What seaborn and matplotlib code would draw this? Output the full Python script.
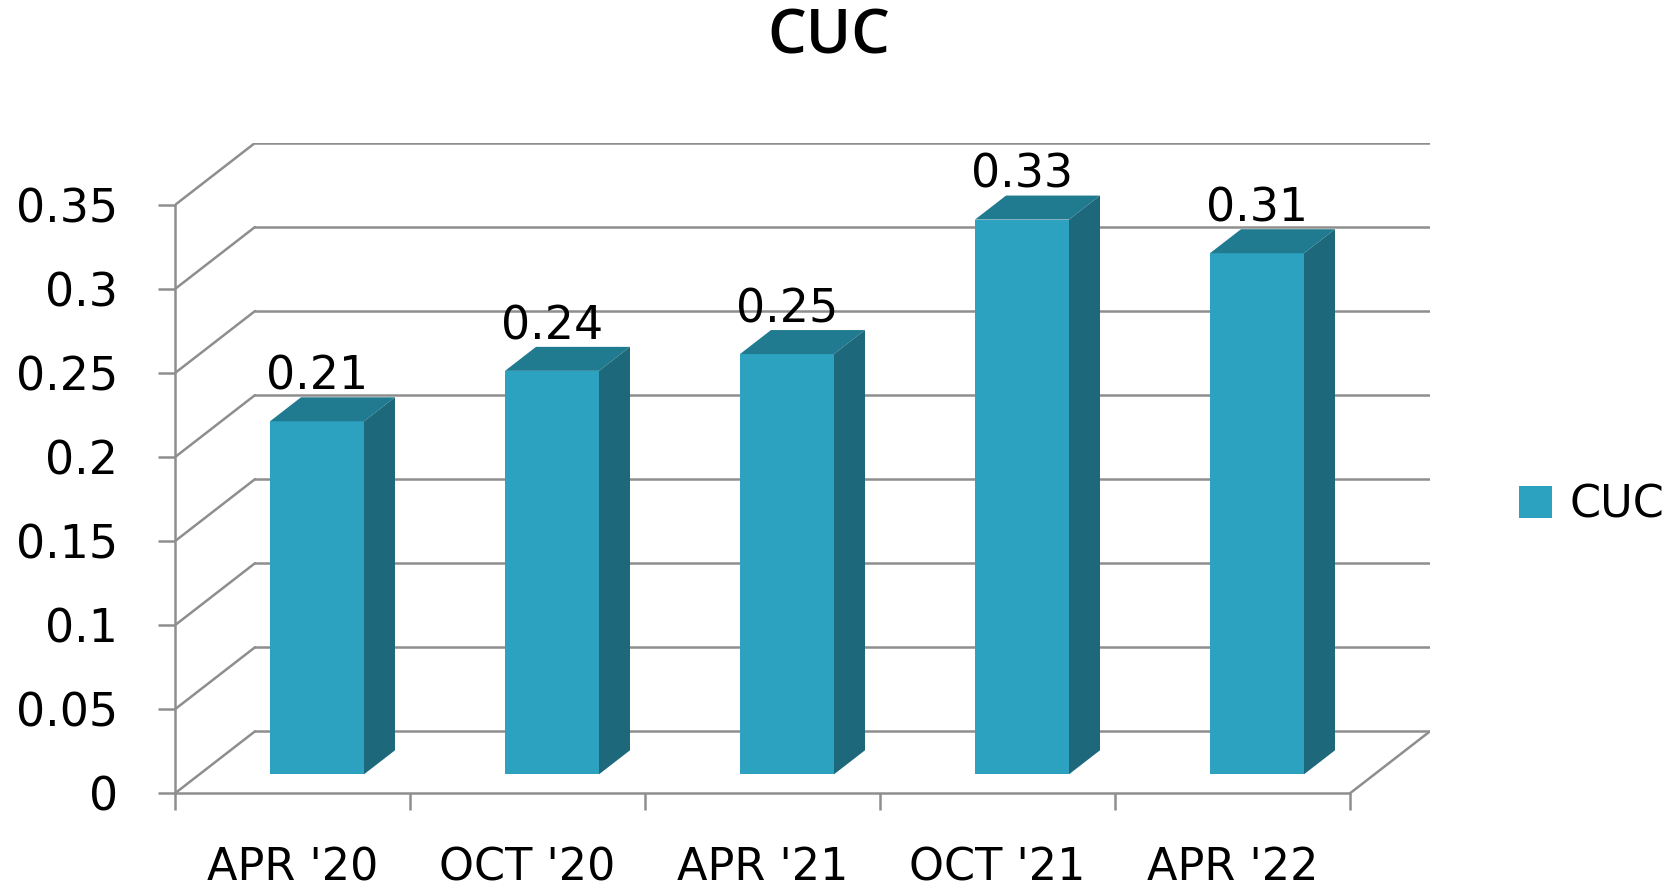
import numpy as np
import pandas as pd
import matplotlib
matplotlib.use("Agg")
import matplotlib.pyplot as plt
from matplotlib.patches import Polygon
import seaborn as sns

# ---- data ----
categories = ["APR '20", "OCT '20", "APR '21", "OCT '21", "APR '22"]
values = [0.21, 0.24, 0.25, 0.33, 0.31]
y_ticks = [0, 0.05, 0.1, 0.15, 0.2, 0.25, 0.3, 0.35]
y_tick_labels = ['0', '0.05', '0.1', '0.15', '0.2', '0.25', '0.3', '0.35']
series_name = 'CUC'

# ---- style ----
front_col = '#2CA1C0'
top_col = '#217B90'
side_col = '#1D687B'
grid_col = '#8E8E8E'
grid_lw = 1.8

W, H = 1674, 889
x0_px, y0_px = 175, 793.3      # front plane origin (pixels)
cat_px = 235                   # pixels per category slot
unit_px = 1681                 # pixels per 1.0 of value
wall = (80, 62)                # back wall depth offset (right, up)
bar_shift = (24.5, 19)         # bar front offset from front plane
bar_depth = (31, 24)           # bar depth
ymax = 0.35
n = len(categories)

sns.set_theme(style='white')
plt.rcParams['font.family'] = ['DejaVu Sans']

fig = plt.figure(figsize=(W / 100, H / 100), dpi=100)
ax_w = cat_px * n + wall[0]
ax_h = unit_px * ymax + wall[1]
ax = fig.add_axes([x0_px / W, (H - y0_px) / H, ax_w / W, ax_h / H])

df = pd.DataFrame({'period': categories, 'value': values})
sns.barplot(data=df, x='period', y='value', color=front_col, width=0.4,
            saturation=1, linewidth=0, label=series_name, ax=ax, zorder=3)

ax.set_xlim(-0.5, n - 0.5 + wall[0] / cat_px)
ax.set_ylim(0, ymax + wall[1] / unit_px)

def dx(px):
    return px / cat_px

def dy(px):
    return px / unit_px

# back wall + side wall grid
wdx, wdy = dx(wall[0]), dy(wall[1])
for t in y_ticks:
    ax.plot([-0.5 + wdx, n - 0.5 + wdx], [t + wdy, t + wdy], color=grid_col, lw=grid_lw, zorder=1)
    ax.plot([-0.5, -0.5 + wdx], [t, t + wdy], color=grid_col, lw=grid_lw, zorder=1)
ax.plot([n - 0.5, n - 0.5 + wdx], [0, wdy], color=grid_col, lw=grid_lw, zorder=1)

# 3d bars
bdx, bdy = dx(bar_depth[0]), dy(bar_depth[1])
for p, v in zip(ax.containers[0], values):
    p.set_x(p.get_x() + dx(bar_shift[0]))
    p.set_y(dy(bar_shift[1]))
    x, y, w, h = p.get_x(), p.get_y(), p.get_width(), p.get_height()
    top = Polygon([(x, y + h), (x + w, y + h), (x + w + bdx, y + h + bdy), (x + bdx, y + h + bdy)],
                  closed=True, facecolor=top_col, edgecolor='none', zorder=3)
    side = Polygon([(x + w, y), (x + w + bdx, y + bdy), (x + w + bdx, y + h + bdy), (x + w, y + h)],
                   closed=True, facecolor=side_col, edgecolor='none', zorder=3)
    ax.add_patch(top)
    ax.add_patch(side)
    ax.annotate(f'{v:.2f}', xy=(x + w / 2, y + h), xytext=(0, 22.8),
                textcoords='offset points', ha='center', va='baseline',
                fontsize=33, color='black', zorder=4)

# axes
for s in ['top', 'right']:
    ax.spines[s].set_visible(False)
for s in ['left', 'bottom']:
    ax.spines[s].set_color(grid_col)
    ax.spines[s].set_linewidth(grid_lw)
ax.spines['left'].set_bounds(0, ymax)
ax.spines['bottom'].set_bounds(-0.5, n - 0.5)

ax.set_yticks(y_ticks, y_tick_labels)
ax.tick_params(axis='y', which='major', left=True, length=12, width=grid_lw, color=grid_col,
               pad=29, labelsize=33, direction='out', labelcolor='black')
ax.set_xticks(range(n), categories)
ax.set_xticks(np.arange(n + 1) - 0.5, minor=True)
ax.tick_params(axis='x', which='major', length=0, pad=38, labelsize=32, labelcolor='black')
ax.tick_params(axis='x', which='minor', bottom=True, length=12, width=grid_lw, color=grid_col,
               direction='out')
ax.set_xlabel('')
ax.set_ylabel('')

fs_px = 32 * 100 / 72
ax.legend(loc='center left', bbox_to_anchor=(1519 / W, (H - 505) / H),
          bbox_transform=fig.transFigure, frameon=False, fontsize=32, labelcolor='black',
          handlelength=33 / fs_px, handleheight=33 / fs_px,
          handletextpad=18 / fs_px, borderpad=0, borderaxespad=0)

fig.text(829 / W, 1 - 6 / H, 'CUC', ha='center', va='top', fontsize=44,
         fontweight='semibold', family=['Open Sans', 'DejaVu Sans'], color='black')

fig.savefig('out.png', dpi=100)
